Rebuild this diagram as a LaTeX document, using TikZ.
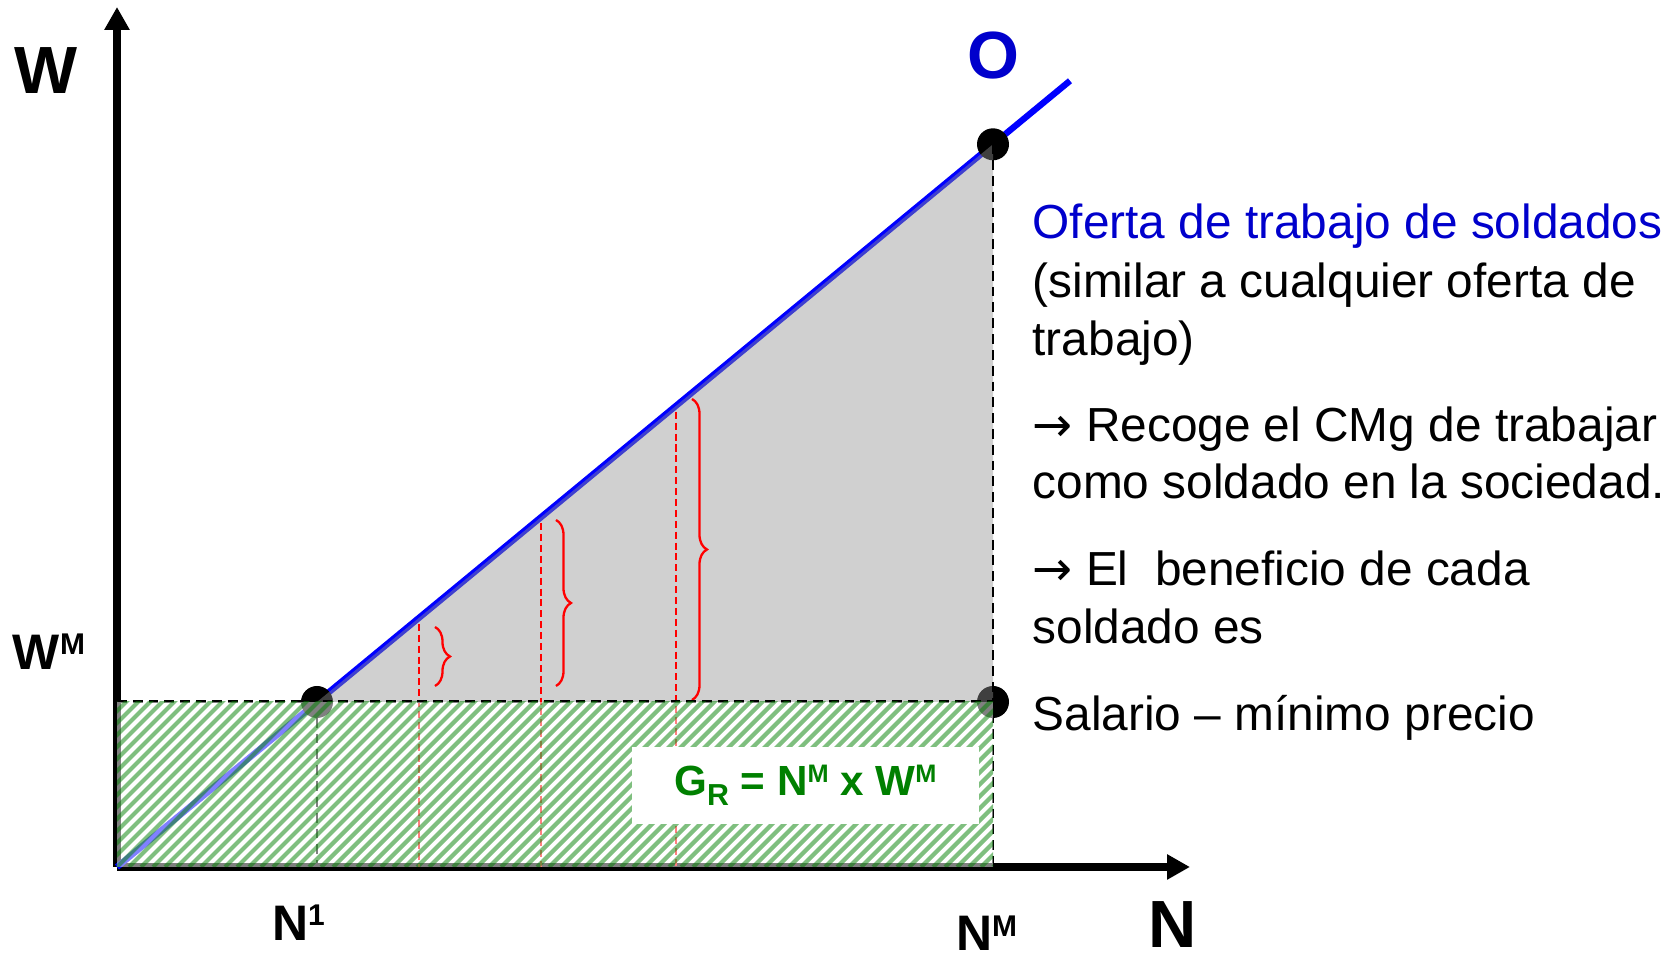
\documentclass[tikz,border=0pt]{standalone}
\usepackage{graphicx}
\usepackage{fontspec}
\setmainfont{Liberation Sans}
\newfontfamily\arrowfont{DejaVu Sans}
\usetikzlibrary{arrows.meta,decorations.pathreplacing}
\definecolor{ofertablue}{RGB}{0,0,204}
\definecolor{trigray}{RGB}{147,147,147}
\definecolor{grgreen}{RGB}{0,128,0}
\newcommand{\supx}[1]{\raisebox{0.29em}{\scalebox{0.6}{#1}}}
\newcommand{\subx}[1]{\raisebox{-0.25em}{\scalebox{0.72}{#1}}}
\newcommand{\arr}{{\arrowfont →}}
\tikzset{
	axisline/.style={line width=2pt,-{Triangle[length=0.23cm,width=0.24cm]}},
	supply/.style={line width=1.8pt,blue},
	levelline/.style={line width=0.85pt,dash pattern=on 2.8pt off 1.7pt},
	gainline/.style={line width=0.55pt,red,dash pattern=on 2pt off 1.1pt},
	gainbrace/.style={line width=0.65pt,red,decorate,decoration={brace,amplitude=0.15cm}},
	hatchline/.style={line width=1.2pt,grgreen,draw opacity=0.5},
	biglabel/.style={inner sep=0,font=\fontsize{19}{22}\selectfont\bfseries},
	smalllabel/.style={inner sep=0,font=\fontsize{14.2}{17}\selectfont\bfseries},
	bodytext/.style={inner sep=0,anchor=base west,font=\fontsize{13.6}{16}\selectfont}
}
\begin{document}
\begin{tikzpicture}
	\useasboundingbox (-1.17,-0.92) rectangle (15.59,8.67);
	\coordinate (orig) at (0,0);
	\coordinate (ytop) at (0,8.60);
	\coordinate (xend) at (10.73,0);
	\coordinate (none) at (2,1.65);
	\coordinate (ntop) at (8.76,7.227);
	\coordinate (nmin) at (8.76,1.65);
	\coordinate (send) at (9.53,7.862);
	\coordinate (wlev) at (0,1.65);
	\coordinate (nbot) at (8.76,0);
	\coordinate (nonebot) at (2,0);

	\draw[axisline] (orig) -- (ytop);
	\draw[axisline] (orig) -- (xend);
	\draw[supply] (orig) -- (send);
	\fill (none) circle (0.16);
	\fill (ntop) circle (0.16);
	\fill (nmin) circle (0.16);
	\fill[trigray,fill opacity=0.435] (none) -- (ntop) -- (nmin) -- cycle;

	\foreach \x in {3.02,4.24,5.59}
		\draw[gainline] (\x,{0.825*\x-0.06}) -- (\x,0);
	\draw[gainbrace] (3.18,2.40) -- (3.18,1.81);
	\draw[gainbrace] (4.39,3.47) -- (4.39,1.81);
	\draw[gainbrace] (5.75,4.68) -- (5.75,1.67);

	\draw[levelline] (wlev) -- (nmin);
	\draw[levelline] (none) -- (nonebot);
	\draw[levelline] (ntop) -- (nbot);

	\begin{scope}
		\clip (orig) rectangle (nmin);
		\fill[white,fill opacity=0.5] (orig) rectangle (nmin);
		\foreach \x in {-1.80,-1.68,...,8.80}
			\draw[hatchline] (\x,0) -- ++(1.8,1.8);
	\end{scope}
	\node[fill=white,minimum width=3.47cm,minimum height=0.77cm,inner sep=0,text=grgreen,font=\fontsize{12}{14}\selectfont\bfseries] (grbox) at (6.885,0.815) {G\subx{R} = N\supx{M} x W\supx{M}};

	\node[biglabel] (wlab) at (-0.71,7.96) {W};
	\node[biglabel,text=ofertablue] (olab) at (8.76,8.11) {O};
	\node[biglabel] (nlab) at (10.56,-0.58) {N};
	\node[smalllabel] (wmlab) at (-0.68,2.155) {W\supx{M}};
	\node[smalllabel] (nonelab) at (1.815,-0.555) {N\supx{1}};
	\node[smalllabel] (nmlab) at (8.695,-0.66) {N\supx{M}};

	\node[bodytext,text=ofertablue] (of1) at (9.15,6.28) {Oferta de trabajo de soldados};
	\node[bodytext] (of2) at (9.15,5.69) {(similar a cualquier oferta de};
	\node[bodytext] (of3) at (9.15,5.11) {trabajo)};
	\node[bodytext] (rc1) at (9.15,4.25) {\arr\ Recoge el CMg de trabajar};
	\node[bodytext] (rc2) at (9.15,3.68) {como soldado en la sociedad.};
	\node[bodytext] (bf1) at (9.15,2.81) {\arr\ El\ \ beneficio de cada};
	\node[bodytext] (bf2) at (9.15,2.23) {soldado es};
	\node[bodytext] (sal) at (9.15,1.36) {Salario – mínimo precio};
\end{tikzpicture}
\end{document}
